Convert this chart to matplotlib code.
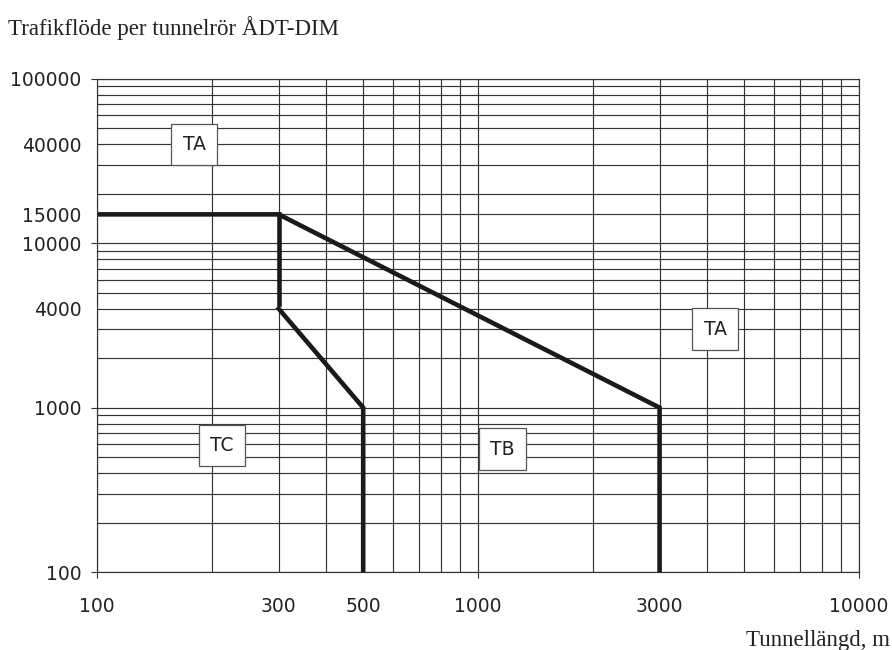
import matplotlib.pyplot as plt
from matplotlib.ticker import LogLocator, NullFormatter

# gränslinjer (tunnellängd m, ÅDT)
ta_x = [100, 300, 3000, 3000]
ta_y = [15000, 15000, 1000, 100]
mid_x = [300, 300]
mid_y = [15000, 4300]
tc_x = [300, 500, 500]
tc_y = [4000, 1000, 100]

zone_names = ['TA', 'TC', 'TB', 'TA']
zone_x = [180, 213, 1160, 4200]
zone_y = [40000, 590, 560, 3000]

xticks = [100, 300, 500, 1000, 3000, 10000]
yticks = [100, 1000, 4000, 10000, 15000, 40000, 100000]


def main():
    fig = plt.figure(figsize=(8.92, 6.5), dpi=100)
    ax = fig.add_axes([0.1087, 0.12, 0.854, 0.7585])
    ax.set_xscale('log')
    ax.set_yscale('log')
    ax.set_xlim(100, 10000)
    ax.set_ylim(100, 100000)

    ax.set_xticks(xticks, [str(v) for v in xticks])
    ax.set_yticks(yticks, [str(v) for v in yticks])
    ax.xaxis.set_minor_locator(LogLocator(base=10, subs=range(2, 10)))
    ax.yaxis.set_minor_locator(LogLocator(base=10, subs=range(2, 10)))
    ax.xaxis.set_minor_formatter(NullFormatter())
    ax.yaxis.set_minor_formatter(NullFormatter())

    ax.tick_params(which='major', length=4, width=0.8, color='#333333',
                   labelsize=13.5, labelcolor='#222222')
    ax.tick_params(axis='x', which='major', pad=14)
    ax.tick_params(axis='y', which='major', pad=7)
    ax.tick_params(which='minor', length=0)
    # tickstreck bara vid dekaderna
    for t, v in zip(ax.xaxis.get_major_ticks(), xticks):
        if v not in (100, 1000, 10000):
            t.tick1line.set_markersize(0)
    for t, v in zip(ax.yaxis.get_major_ticks(), yticks):
        if v not in (100, 1000, 10000, 100000):
            t.tick1line.set_markersize(0)

    ax.grid(which='both', color='#333333', linewidth=0.85)
    for s in ax.spines.values():
        s.set_color('#333333')
        s.set_linewidth(0.85)

    ax.plot(ta_x, ta_y, color='#1a1a1a', lw=3.3, solid_joinstyle='miter')
    ax.plot(mid_x, mid_y, color='#1a1a1a', lw=3.3)
    ax.plot(tc_x, tc_y, color='#1a1a1a', lw=3.3, solid_joinstyle='miter')

    for name, x, y in zip(zone_names, zone_x, zone_y):
        ax.text(x, y, name, ha='center', va='center', fontsize=13.5,
                color='#222222', zorder=5,
                bbox=dict(boxstyle='square,pad=0.6', facecolor='white',
                          edgecolor='#555555', linewidth=0.9))

    fig.text(0.009, 0.957, 'Trafikflöde per tunnelrör ÅDT-DIM', ha='left', va='center',
             family='Liberation Serif', fontsize=16.5, color='#222222')
    fig.text(0.998, 0.015, 'Tunnellängd, m', ha='right', va='center',
             family='Liberation Serif', fontsize=16.5, color='#222222')

    fig.savefig('out.png', dpi=100)


if __name__ == '__main__':
    main()
